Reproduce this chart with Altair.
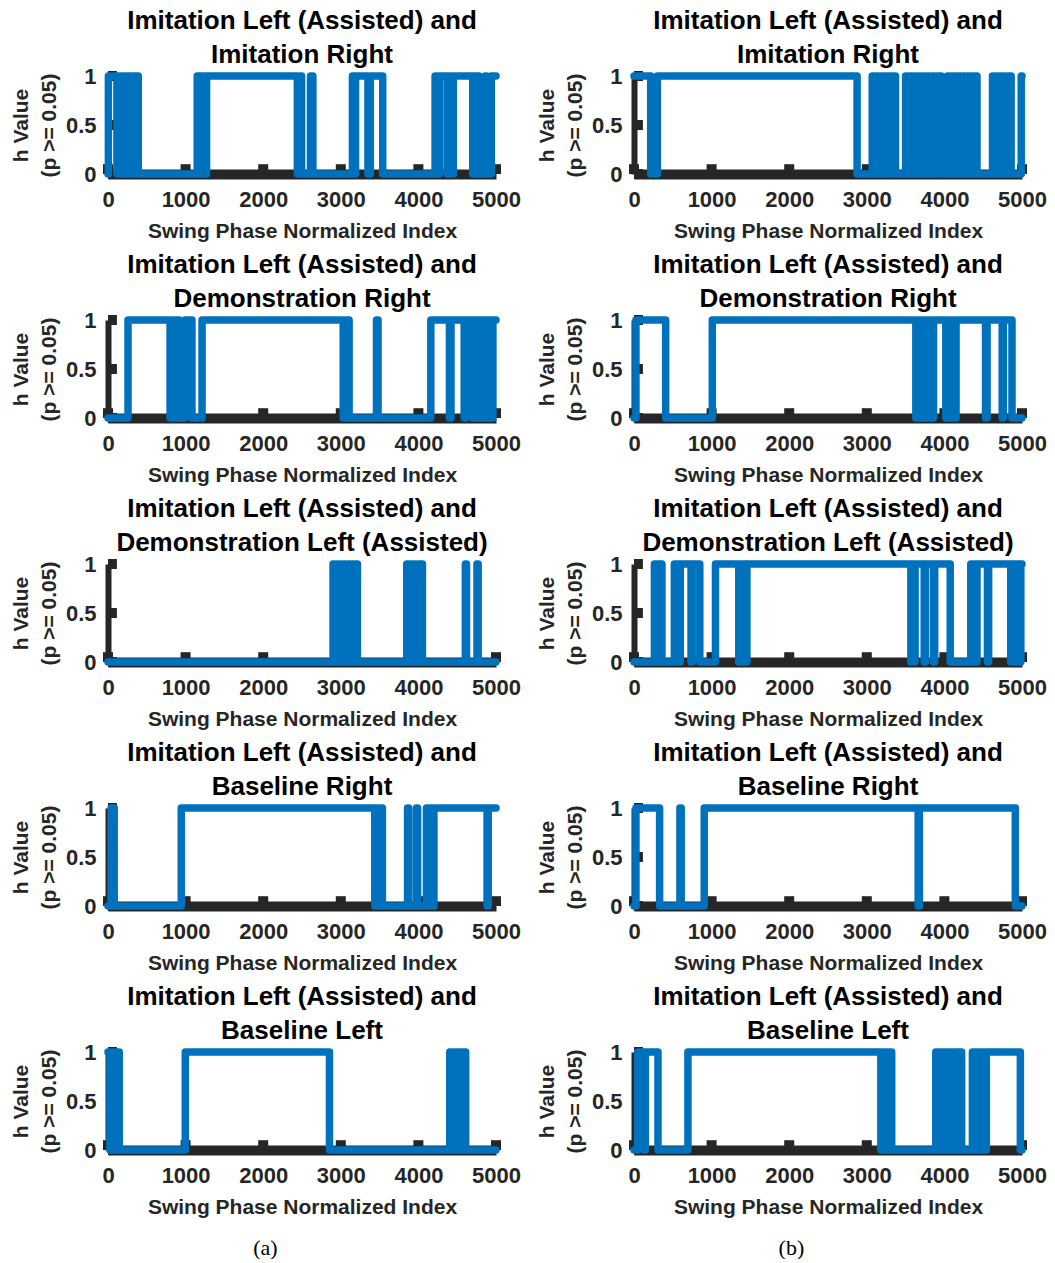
import altair as alt
import pandas as pd

X_TICKS = [0, 1000, 2000, 3000, 4000, 5000]
Y_TICKS = [0, 0.5, 1]
X_MAX = 5000

LINE1 = "Imitation Left (Assisted) and"
SECOND_LINES = ["Imitation Right", "Demonstration Right", "Demonstration Left (Assisted)",
                "Baseline Right", "Baseline Left"]

# intervals (start index, end index) where h = 1
A1_HIGH = [[5, 115], [160, 180], [205, 225], [250, 270], [290, 310], [330, 390],
           [1150, 1170], [1190, 1210], [1230, 1250], [1270, 2440], [2470, 2495], [2610, 2640],
           [3150, 3170], [3190, 3350], [3380, 3540], [4215, 4240], [4270, 4370], [4400, 4420],
           [4450, 4700], [4720, 4740], [4760, 4780], [4860, 4880], [4940, 5000]]
B1_HIGH = [[0, 215], [300, 2875], [3070, 3090], [3120, 3140], [3170, 3190], [3220, 3240],
           [3270, 3290], [3320, 3370], [3500, 3520], [3550, 3570], [3600, 3620], [3650, 3670],
           [3700, 3720], [3750, 3770], [3800, 3820], [3850, 3870], [3900, 3960], [4040, 4060],
           [4090, 4110], [4140, 4160], [4190, 4210], [4240, 4260], [4290, 4310], [4340, 4360],
           [4390, 4420], [4620, 4640], [4670, 4690], [4720, 4740], [4770, 4790], [4820, 4860],
           [4990, 5000]]
A2_HIGH = [[258, 800], [830, 850], [880, 918], [994, 1082], [1212, 3031], [3060, 3075],
           [3090, 3107], [3460, 3480], [4160, 4400], [4420, 4590], [4610, 4700], [4720, 4740],
           [4760, 4780], [4800, 4820], [4840, 4860], [4880, 4900], [4920, 4940], [4960, 5000]]
B2_HIGH = [[25, 408], [1009, 3632], [3660, 3680], [3710, 3730], [3760, 3780], [3810, 3830],
           [3860, 4018], [4045, 4065], [4095, 4115], [4150, 4530], [4550, 4745], [4760, 4871]]
A3_HIGH = [[2900, 2920], [2950, 2970], [3000, 3020], [3050, 3070], [3100, 3120], [3150, 3170],
           [3195, 3214], [3850, 3870], [3900, 3920], [3950, 3970], [4000, 4020], [4040, 4052],
           [4605, 4620], [4755, 4770]]
B3_HIGH = [[263, 290], [315, 335], [345, 360], [520, 540], [565, 580], [596, 735], [750, 848],
           [1050, 1350], [1370, 1400], [1420, 1440], [1455, 3568], [3585, 3600], [3622, 3740],
           [3755, 3860], [3875, 4075], [4340, 4360], [4385, 4400], [4420, 4555], [4570, 4855],
           [4870, 4890], [4910, 4930], [4950, 4970], [4985, 5000]]
A4_HIGH = [[40, 80], [944, 3438], [3460, 3475], [3500, 3536], [3860, 3875], [3975, 3990],
           [4104, 4125], [4150, 4170], [4200, 4885], [4900, 5000]]
B4_HIGH = [[25, 330], [592, 608], [905, 3662], [3678, 4914]]
A5_HIGH = [[0, 25], [50, 75], [100, 120], [135, 145], [996, 2854], [4404, 4425], [4450, 4470],
           [4495, 4515], [4540, 4560], [4585, 4609]]
B5_HIGH = [[47, 130], [145, 309], [695, 3181], [3205, 3225], [3250, 3270], [3295, 3321],
           [3889, 3910], [3935, 3955], [3980, 4000], [4025, 4045], [4070, 4090], [4115, 4135],
           [4160, 4180], [4200, 4222], [4361, 4380], [4405, 4425], [4450, 4470], [4495, 4515],
           [4540, 4979]]

COL_A = [A1_HIGH, A2_HIGH, A3_HIGH, A4_HIGH, A5_HIGH]
COL_B = [B1_HIGH, B2_HIGH, B3_HIGH, B4_HIGH, B5_HIGH]

BLUE = "#0072BD"
DARK = "#262626"
FONT = "Liberation Sans"
W, H = 388, 98


def steps(intervals):
    xs, hs = [], []
    if intervals[0][0] > 0:
        xs.append(0)
        hs.append(0)
    for s, e in intervals:
        if s == 0:
            xs += [s, e]
            hs += [1, 1]
        else:
            xs += [s, s, e]
            hs += [0, 1, 1]
        if e < X_MAX:
            xs.append(e)
            hs.append(0)
    if xs[-1] < X_MAX:
        xs.append(X_MAX)
        hs.append(0)
    return pd.DataFrame({"x": xs, "h": hs, "i": list(range(len(xs)))})


def x_enc():
    return alt.X("x:Q", scale=alt.Scale(domain=[0, X_MAX], nice=False, zero=False),
                 axis=alt.Axis(values=X_TICKS, format="d", title="Swing Phase Normalized Index",
                               ticks=False, tickSize=0, labelPadding=15, titlePadding=10,
                               domainWidth=10, domainColor=DARK, grid=False,
                               labelFlush=False, labelOverlap=False, zindex=0))


def y_enc():
    return alt.Y("h:Q", scale=alt.Scale(domain=[0, 1], nice=False, zero=False),
                 axis=alt.Axis(values=Y_TICKS, format="~g", title=["h Value", "(p >= 0.05)"],
                               ticks=False, tickSize=0, labelPadding=12, titlePadding=6,
                               titleLineHeight=28, domainWidth=6, domainColor=DARK, grid=False,
                               labelFlush=False, labelOverlap=False, zindex=0))


def panel(second_line, intervals):
    df = steps(intervals)
    xt = alt.Chart(pd.DataFrame({"x": X_TICKS})).mark_rule(
        color=DARK, strokeWidth=10).encode(x=x_enc(), y=alt.datum(0), y2=alt.datum(0.1))
    yt = alt.Chart(pd.DataFrame({"h": Y_TICKS})).mark_rule(
        color=DARK, strokeWidth=10).encode(y=y_enc(), x=alt.datum(0), x2=alt.datum(115))
    line = alt.Chart(df).mark_line(
        color=BLUE, strokeWidth=7.5, strokeJoin="round", strokeCap="round").encode(
        x=x_enc(), y=y_enc(), order="i:Q")
    return alt.layer(xt, yt, line).properties(
        width=W, height=H,
        title=alt.TitleParams(text=[LINE1, second_line], fontSize=26, fontWeight="bold",
                              font=FONT, color="black", lineHeight=34, anchor="middle",
                              frame="group", offset=-3))


def column(data, caption):
    return alt.vconcat(*[panel(t, d) for t, d in zip(SECOND_LINES, data)], spacing=11).properties(
        title=alt.TitleParams(text=caption, orient="bottom", anchor="middle", frame="bounds",
                              font="Liberation Serif", fontSize=22, fontWeight="normal",
                              color="black", offset=21))


chart = alt.hconcat(column(COL_A, "(a)"), column(COL_B, "(b)"), spacing=15).configure_view(
    stroke=None).configure_axis(
    labelFont=FONT, labelFontSize=22, labelFontWeight="bold", labelColor=DARK,
    titleFont=FONT, titleFontSize=21, titleFontWeight="bold", titleColor=DARK).properties(
    padding={"left": 2, "top": 0, "right": 0, "bottom": 0}, background="white")

chart.save("out.html", embed_options={"renderer": "svg", "actions": False})
